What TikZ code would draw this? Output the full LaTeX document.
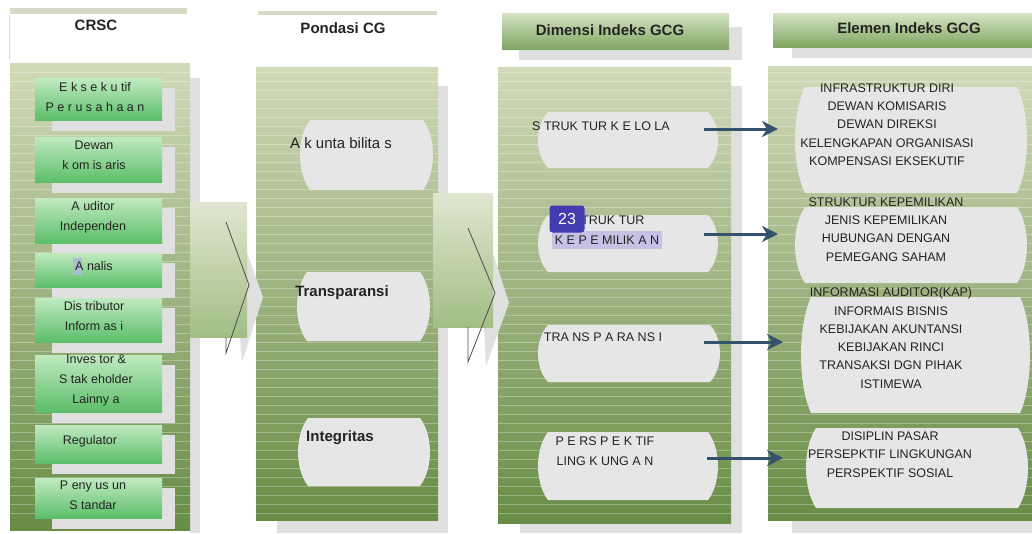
\documentclass[tikz,border=0pt]{standalone}
\usepackage{fontspec}
\setmainfont{Liberation Sans}
\usepackage{tikz}
\usetikzlibrary{arrows.meta}
\definecolor{ink}{RGB}{35,35,35}
\definecolor{paneltop}{RGB}{208,218,184}
\definecolor{panelbot}{RGB}{104,140,70}
\definecolor{sidegray}{RGB}{224,224,224}
\definecolor{barrelgray}{RGB}{230,230,230}
\definecolor{mintop}{RGB}{192,234,192}
\definecolor{minbot}{RGB}{92,190,106}
\definecolor{arrowc}{RGB}{52,82,108}
\definecolor{hdrline}{RGB}{212,218,196}
\definecolor{hdrtop}{RGB}{214,228,196}
\definecolor{hdrbot}{RGB}{128,166,98}
\definecolor{chevtop}{RGB}{224,230,208}
\definecolor{chevbot}{RGB}{162,190,132}
\definecolor{badgec}{RGB}{66,60,176}
\definecolor{selc}{RGB}{198,194,230}
\definecolor{selA}{RGB}{172,188,212}
\def\barrel#1#2#3#4{\fill[barrelgray] ({#1+10},#2) -- ({#3-10},#2)
  .. controls ({#3+3.3},{#2+(#4-#2)/4}) and ({#3+3.3},{#4-(#4-#2)/4}) .. ({#3-10},#4)
  -- ({#1+10},#4)
  .. controls ({#1-3.3},{#4-(#4-#2)/4}) and ({#1-3.3},{#2+(#4-#2)/4}) .. ({#1+10},#2) -- cycle}
\tikzset{
  colpanel/.style={top color=paneltop, bottom color=panelbot},
  stripe/.style={white, opacity=.3, line width=.7pt},
  greenbox/.style={top color=mintop, bottom color=minbot},
  hdrbox/.style={top color=hdrtop, bottom color=hdrbot},
  chevbox/.style={top color=chevtop, bottom color=chevbot},
  chevline/.style={draw=black!70, line width=.8pt},
  hdr/.style={font=\fontsize{15}{18}\selectfont\bfseries, text=ink, inner sep=0pt},
  lbl/.style={font=\fontsize{12.5}{20}\selectfont, text=ink, align=center, inner sep=0pt},
  biglbl/.style={font=\fontsize{15}{18}\selectfont, text=ink, inner sep=0pt},
  elem/.style={font=\fontsize{12.5}{18.3}\selectfont, text=ink, align=center, inner sep=0pt},
  flow/.style={draw=arrowc, line width=3pt, -{Stealth[length=16pt,width=16pt,inset=5pt]}},
  badge/.style={fill=badgec, rounded corners=3pt, text=white, font=\fontsize{16}{16}\selectfont,
    minimum width=35pt, minimum height=27pt, inner sep=0pt}
}
\begin{document}
\begin{tikzpicture}[x=1pt, y=-1pt]
  \useasboundingbox (0,0) rectangle (1032,533);
  % shadows
  \fill[sidegray] (190,78) rectangle (200,533);
  \fill[sidegray] (438,86) rectangle (448,533);
  \fill[sidegray] (277,520) rectangle (448,533);
  \fill[sidegray] (731,86) rectangle (742,533);
  \fill[sidegray] (520,523) rectangle (742,533);
  \fill[sidegray] (792,520) rectangle (1032,533);
  % column panels
  \fill[colpanel] (10,63) rectangle (190,530);
  \fill[colpanel] (256,67) rectangle (438,520);
  \fill[colpanel] (498,67) rectangle (731,523);
  \fill[colpanel] (768,66) rectangle (1032,520);
  \foreach \xa/\xb in {10/190,256/438,498/731,768/1032}
    \foreach \yy in {72,81,...,515}
      \draw[stripe] (\xa,\yy) -- (\xb,\yy);

  % headers
  \fill[hdrline] (10,8) rectangle (187,14);
  \draw[black!15] (9,15) -- (9,60);
  \fill[hdrline] (258,11) rectangle (437,15);
  \fill[sidegray] (519,27) rectangle (742,60);
  \fill[hdrbox] (502,13) rectangle (729,49);
  \fill[sidegray] (792,30) rectangle (1032,58);
  \fill[hdrbox] (773,13) rectangle (1032,47);
  \node[hdr] (crsc) at (96,25) {CRSC};
  \node[hdr] (pondasi) at (343,28) {Pondasi CG};
  \node[hdr] (dimensi) at (610,30) {Dimensi Indeks GCG};
  \node[hdr] (elemen) at (909,28) {Elemen Indeks GCG};

  % chevrons between columns
  \fill[sidegray] (246,250) -- (263,297) -- (242,362) -- (240,337) -- (246,300) -- cycle;
  \fill[chevbox] (190,202) rectangle (247,337);
  \draw[chevline] (226,222) -- (249,285) -- (226,353) -- (226,337);
  \fill[sidegray] (492,250) -- (509,303) -- (486,366) -- (484,327) -- (492,300) -- cycle;
  \fill[chevbox] (433,193) rectangle (493,327);
  \draw[chevline] (468,228) -- (495,293) -- (468,362) -- (468,327);

  % CRSC boxes
  \foreach \ya/\yb in {78/120,137/182,198/243,253/287,298/342,355/412,425/463,478/518}{
    \fill[sidegray] (52,{\ya+10}) rectangle (175,{\yb+11});
    \fill[greenbox] (35,\ya) rectangle (162,\yb);
  }
  \fill[selA] (73,258) rectangle (82,275);
  \node[lbl] (eks) at (95,97) {E k s e k u tif\\P e r u s a h a a n};
  \node[lbl] (dewan) at (94,155) {Dewan\\k om is aris};
  \node[lbl] (auditor) at (93,217) {A uditor\\Independen};
  \node[lbl] (analis) at (94,266) {A nalis};
  \node[lbl] (distributor) at (94,316) {Dis tributor\\Inform as i};
  \node[lbl] (investor) at (96,380) {Inves tor \&\\S tak eholder\\Lainny a};
  \node[lbl] (regulator) at (90,441) {Regulator};
  \node[lbl] (penyusun) at (93,495) {P eny us un\\S tandar};

  % Pondasi CG
  \barrel{300}{120}{433}{190};
  \barrel{297}{272}{430}{341};
  \barrel{298}{418}{430}{486};
  \node[biglbl] (akun) at (341,143) {A k unta bilita s};
  \node[biglbl, font=\fontsize{15}{18}\selectfont\bfseries] (transp) at (342,293) {Transparansi};
  \node[biglbl, font=\fontsize{15}{18}\selectfont\bfseries] (integ) at (340,438) {Integritas};

  % Dimensi Indeks GCG
  \barrel{538}{112}{718}{168};
  \barrel{538}{215}{718}{272};
  \barrel{538}{325}{720}{382};
  \barrel{538}{432}{718}{500};
  \fill[selc] (552,231) rectangle (662,249);
  \node[lbl] (struk) at (601,126) {S TRUK TUR K E LO LA};
  \node[lbl] (milik) at (607,230) {S TRUK TUR\\K E P E MILIK A N};
  \node[lbl] (transd) at (603,337) {TRA NS P A RA NS I};
  \node[lbl] (lingk) at (605,451) {P E RS P E K TIF\\LING K UNG A N};
  \node[badge] (page) at (567,219) {23};

  % Elemen Indeks GCG
  \barrel{795}{87}{1027}{193};
  \barrel{795}{207}{1027}{283};
  \barrel{801}{297}{1030}{413};
  \barrel{806}{428}{1028}{508};
  \node[elem] (infra) at (887,124.5) {INFRASTRUKTUR DIRI\\DEWAN KOMISARIS\\DEWAN DIREKSI\\KELENGKAPAN ORGANISASI\\KOMPENSASI EKSEKUTIF};
  \node[elem] (kepem) at (886,229.5) {STRUKTUR KEPEMILIKAN\\JENIS KEPEMILIKAN\\HUBUNGAN DENGAN\\PEMEGANG SAHAM};
  \node[elem] (audit) at (891,338) {INFORMASI AUDITOR(KAP)\\INFORMAIS BISNIS\\KEBIJAKAN AKUNTANSI\\KEBIJAKAN RINCI\\TRANSAKSI DGN PIHAK\\ISTIMEWA};
  \node[elem] (pasar) at (890,454.5) {DISIPLIN PASAR\\PERSEPKTIF LINGKUNGAN\\PERSPEKTIF SOSIAL};

  % arrows
  \coordinate (a1) at (704,129);
  \coordinate (b1) at (778,129);
  \coordinate (a2) at (704,234);
  \coordinate (b2) at (778,234);
  \coordinate (a3) at (704,342);
  \coordinate (b3) at (783,342);
  \coordinate (a4) at (707,458);
  \coordinate (b4) at (783,458);
  \draw[flow] (a1) -- (b1);
  \draw[flow] (a2) -- (b2);
  \draw[flow] (a3) -- (b3);
  \draw[flow] (a4) -- (b4);
\end{tikzpicture}
\end{document}
